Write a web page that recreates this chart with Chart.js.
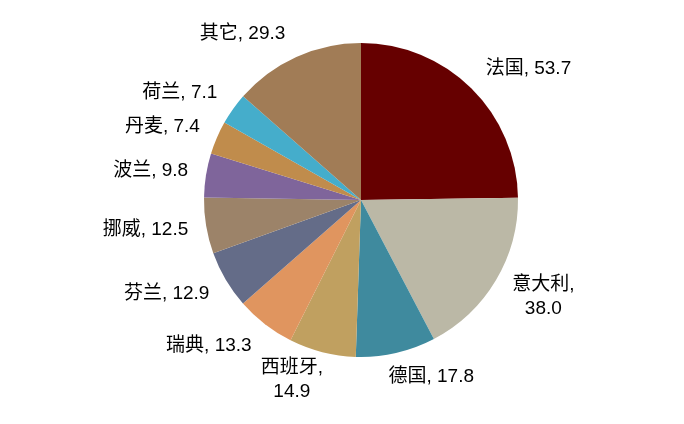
<!DOCTYPE html>
<html>
<head>
<meta charset="utf-8">
<script src="https://cdn.jsdelivr.net/npm/chart.js@4"></script>
<style>
  html, body { margin: 0; padding: 0; background: #fff; }
  #wrap { width: 684px; height: 424px; }
</style>
</head>
<body>
<div id="wrap"><canvas id="pieChart"></canvas></div>
<script>
// data
const countries = ['法国', '意大利', '德国', '西班牙', '瑞典', '芬兰', '挪威', '波兰', '丹麦', '荷兰', '其它'];
const shares = [53.7, 38.0, 17.8, 14.9, 13.3, 12.9, 12.5, 9.8, 7.4, 7.1, 29.3];
const sliceColors = ['#660000', '#BBB8A6', '#3F8A9E', '#C0A060', '#E0955F', '#646C88',
                     '#9C8369', '#7F659B', '#C08C4C', '#45ADCB', '#A17C56'];
const wrappedLabels = ['意大利', '西班牙'];

const FONT = "19px 'Liberation Sans', 'Noto Sans CJK SC', Arial, sans-serif";

// draws "name, value" outside each slice, roughly the way the office chart does it
const outsideLabels = {
  id: 'outsideLabels',
  afterDatasetsDraw(chart) {
    const ctx = chart.ctx;
    const meta = chart.getDatasetMeta(0);
    ctx.save();
    ctx.font = FONT;
    ctx.fillStyle = '#000';
    ctx.textAlign = 'center';
    ctx.textBaseline = 'middle';
    meta.data.forEach((arc, i) => {
      const name = chart.data.labels[i];
      const val = chart.data.datasets[0].data[i].toFixed(1);
      const lines = wrappedLabels.includes(name) ? [name + ',', val] : [name + ', ' + val];
      const lineH = 24;
      const w = Math.max(...lines.map(t => ctx.measureText(t).width));
      const h = lines.length * lineH;
      const mid = (arc.startAngle + arc.endAngle) / 2;
      const dx = Math.cos(mid), dy = Math.sin(mid);
      const r = arc.outerRadius + 12;
      const sx = Math.max(-1, Math.min(1, dx * 3));
      const sy = Math.max(-1, Math.min(1, dy * 1.3));
      const lx = arc.x + r * dx + sx * (w / 2 + 6);
      const ly = arc.y + r * dy + sy * (lines.length > 1 ? h / 2 - 8 : h / 2);
      lines.forEach((t, k) => {
        ctx.fillText(t, lx, ly - (h - lineH) / 2 + k * lineH);
      });
    });
    ctx.restore();
  }
};

new Chart('pieChart', {
  type: 'pie',
  data: {
    labels: countries,
    datasets: [{
      data: shares,
      backgroundColor: sliceColors,
      borderWidth: 0
    }]
  },
  options: {
    responsive: true,
    maintainAspectRatio: false,
    animation: false,
    radius: 157,
    layout: { padding: { left: 38, right: 0, top: 0, bottom: 24 } },
    plugins: {
      legend: { display: false },
      tooltip: { enabled: false }
    }
  },
  plugins: [outsideLabels]
});
</script>
</body>
</html>
